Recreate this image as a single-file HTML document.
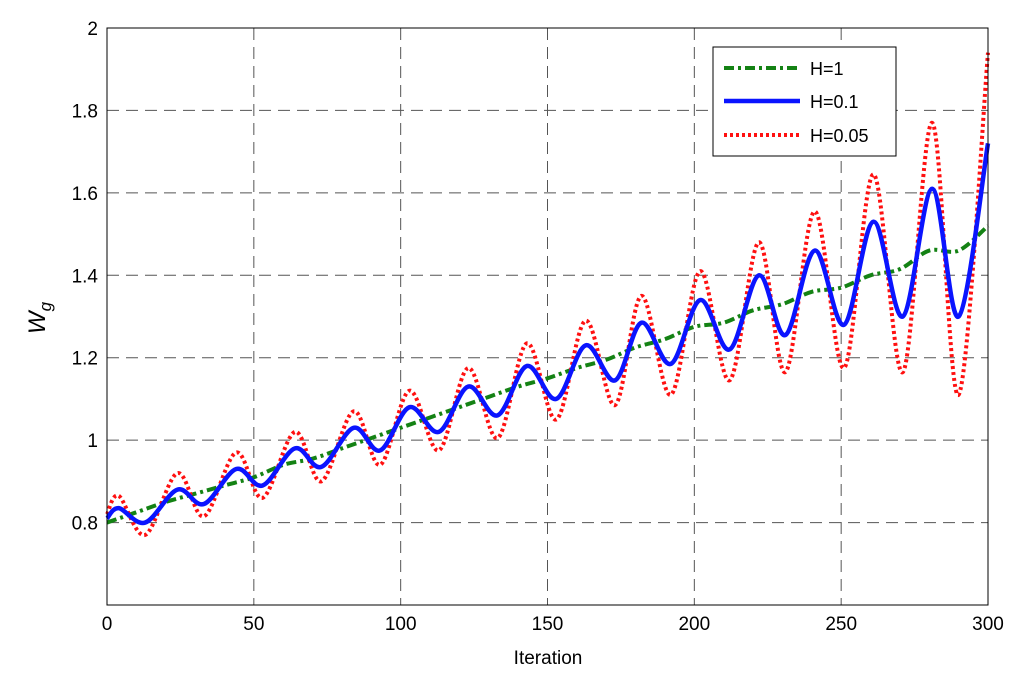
<!DOCTYPE html>
<html><head><meta charset="utf-8"><style>
body{margin:0;background:#fff}
text{font-family:"Liberation Sans",Arial,sans-serif}
</style></head><body>
<svg id="chart" width="1024" height="673" xmlns="http://www.w3.org/2000/svg">
<rect width="1024" height="673" fill="#fff"/>
<g id="grid"></g>
<g id="ticks"></g>
<g id="series"></g>
<rect x="107" y="28" width="881" height="577" fill="none" stroke="#000" stroke-width="1"/>
<text x="548" y="664" font-size="19" text-anchor="middle">Iteration</text>
<text transform="translate(45,318) rotate(-90)" font-size="24" font-style="italic" text-anchor="middle">W<tspan font-size="17" dy="6">g</tspan></text>
<g>
<rect x="713" y="47" width="183" height="109" fill="#fff" stroke="#000"/>
<g><line x1="724" y1="68" x2="800" y2="68" stroke="#148214" stroke-width="4" stroke-dasharray="10,4,3,4"/><text x="810" y="75" font-size="18">H=1</text></g>
<g><line x1="724" y1="101" x2="800" y2="101" stroke="#0a14ff" stroke-width="4.5"/><text x="810" y="108" font-size="18">H=0.1</text></g>
<g><line x1="724" y1="135" x2="800" y2="135" stroke="#ff1010" stroke-width="4" stroke-dasharray="3,3"/><text x="810" y="142" font-size="18">H=0.05</text></g>
</g>
</svg>
<script>
const xTicks=[0,50,100,150,200,250,300];
const yTicks=[0.8,1,1.2,1.4,1.6,1.8,2];
const yTickLabels=["0.8","1","1.2","1.4","1.6","1.8","2"];
const osc_x=[0,4,13,24,33,44,53,64,73,84,93,103,113,123,133,143,153,163,173,182,192,202,212,222,231,241,251,261,271,281,290,300];
const blue_y=[0.81,0.835,0.80,0.88,0.845,0.93,0.89,0.98,0.935,1.03,0.975,1.08,1.02,1.13,1.06,1.18,1.10,1.23,1.145,1.285,1.185,1.34,1.22,1.40,1.255,1.46,1.28,1.53,1.30,1.61,1.30,1.72];
const red_y=[0.82,0.865,0.77,0.92,0.815,0.97,0.86,1.02,0.90,1.07,0.94,1.12,0.975,1.175,1.005,1.235,1.05,1.29,1.085,1.35,1.11,1.41,1.145,1.48,1.165,1.555,1.175,1.645,1.165,1.77,1.11,1.94];
const green_x=[0,10,20,30,40,50,60,70,80,90,100,110,120,130,140,150,160,170,180,190,200,210,220,230,240,250,260,270,280,290,300];
const green_y=[0.80,0.825,0.85,0.87,0.89,0.91,0.94,0.955,0.98,1.005,1.03,1.055,1.08,1.105,1.13,1.15,1.175,1.195,1.225,1.245,1.275,1.285,1.315,1.33,1.36,1.37,1.40,1.415,1.46,1.46,1.52];
const X=v=>107+v*(881/300);
const Y=v=>605-(v-0.6)*(577/1.4);
const NS="http://www.w3.org/2000/svg";
function mk(t,a,p){const e=document.createElementNS(NS,t);for(const k in a)e.setAttribute(k,a[k]);p.appendChild(e);return e;}
const grid=document.getElementById('grid'),ticks=document.getElementById('ticks'),ser=document.getElementById('series');
xTicks.forEach(v=>{
 const g=mk('line',{x1:X(v),x2:X(v),y1:28,y2:605,stroke:'#555','stroke-dasharray':'12,7'},grid);
 
 
 const t=mk('text',{x:X(v),y:630,'font-size':19,'text-anchor':'middle'},ticks);t.textContent=v;
 
 
});
yTicks.forEach((v,i)=>{
 const g=mk('line',{x1:107,x2:988,y1:Y(v),y2:Y(v),stroke:'#555','stroke-dasharray':'12,7'},grid);
 
 
 const t=mk('text',{x:98,y:Y(v)+7,'font-size':19,'text-anchor':'end'},ticks);t.textContent=yTickLabels[i];
 
 
});
function smooth(xs,ys){
 const p=xs.map((x,i)=>[X(x),Y(ys[i])]);
 let d='M'+p[0][0]+','+p[0][1];
 for(let i=0;i<p.length-1;i++){
  const p0=p[Math.max(0,i-1)],p1=p[i],p2=p[i+1],p3=p[Math.min(p.length-1,i+2)];
  const c1=[p1[0]+(p2[0]-p0[0])/6,p1[1]+(p2[1]-p0[1])/6];
  const c2=[p2[0]-(p3[0]-p1[0])/6,p2[1]-(p3[1]-p1[1])/6];
  d+=' C'+c1+' '+c2+' '+p2;
 }
 return d;
}
const gl=mk('path',{d:smooth(green_x,green_y),fill:'none',stroke:'#148214','stroke-width':4,'stroke-dasharray':'10,4,3,4'},ser);


const rl=mk('path',{d:smooth(osc_x,red_y),fill:'none',stroke:'#ff1010','stroke-width':4,'stroke-dasharray':'3,3'},ser);


const bl=mk('path',{d:smooth(osc_x,blue_y),fill:'none',stroke:'#0a14ff','stroke-width':4.5},ser);


</script>
</body></html>
